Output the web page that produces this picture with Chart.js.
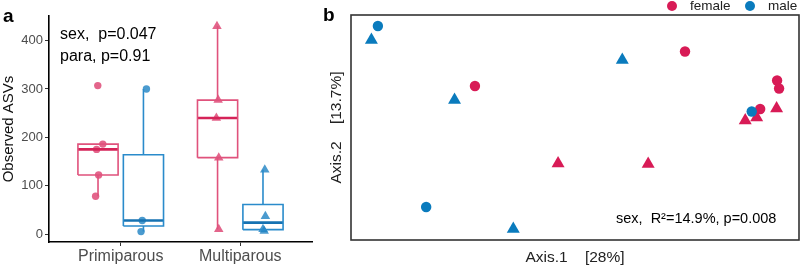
<!DOCTYPE html>
<html><head><meta charset="utf-8">
<script src="https://cdn.jsdelivr.net/npm/chart.js@4.4.1/dist/chart.umd.min.js"></script>
<style>
html,body{margin:0;padding:0;background:#fff;}
#wrap{position:relative;width:800px;height:267px;overflow:hidden;font-family:"Liberation Sans",Arial,sans-serif;}
#ca{position:absolute;left:0;top:0;}
#cb{position:absolute;left:320px;top:0;}
.lab{position:absolute;font-weight:bold;font-size:19px;color:#000;}
.ann{position:absolute;font-size:16px;color:#000;line-height:22px;white-space:nowrap;}
.leg{position:absolute;font-size:13.5px;color:#222;white-space:nowrap;top:-2px;}
.dot{position:absolute;width:10px;height:10px;border-radius:50%;top:1px;}
</style></head>
<body><div id="wrap">
<canvas id="ca" width="320" height="267"></canvas>
<canvas id="cb" width="480" height="267"></canvas>
<div class="lab" style="left:3px;top:5px;">a</div>
<div class="lab" style="left:323px;top:4px;">b</div>
<div class="ann" style="left:60px;top:23px;">sex, &nbsp;p=0.047<br>para, p=0.91</div>
<div class="ann" style="left:616px;top:207px;font-size:14.5px;">sex, &nbsp;R²=14.9%, p=0.008</div>
<span class="dot" style="left:667px;background:#D81B56"></span><span class="leg" style="left:690px;">female</span>
<span class="dot" style="left:745px;background:#0A7BBD"></span><span class="leg" style="left:768px;">male</span>
</div>
<script>
// ---------- Data: panel a (Observed ASVs) ----------
const categories = ["Primiparous", "Multiparous"];
const primFemale = [78, 122, 175, 186, 307];
const primMale = [5, 28, 300];
const multiFemale = [10, 158, 240, 277, 430];
const multiMale = [6, 10, 37, 133];
const yTicksA = [0, 100, 200, 300, 400];

// ---------- Data: panel b (PCoA) ----------
const femaleCircleX = [-0.201, 0.221, 0.406, 0.410, 0.372];
const femaleCircleY = [0.058, 0.127, 0.069, 0.053, 0.012];
const femaleTriX = [0.405, 0.342, 0.365, -0.034, 0.147];
const femaleTriY = [0.013, -0.011, -0.005, -0.097, -0.098];
const maleCircleX = [-0.396, 0.355, -0.299];
const maleCircleY = [0.178, 0.007, -0.184];
const maleTriX = [-0.409, -0.242, 0.095, -0.124];
const maleTriY = [0.150, 0.030, 0.110, -0.228];

// ---------- helpers ----------
function quant(sorted, p){
  const h=(sorted.length-1)*p, lo=Math.floor(h), hi=Math.ceil(h);
  return sorted[lo]+(h-lo)*(sorted[hi]-sorted[lo]);
}
function stats(v){
  const s=[...v].sort((a,b)=>a-b);
  const q1=quant(s,0.25), med=quant(s,0.5), q3=quant(s,0.75), iqr=q3-q1;
  const lw=Math.min(...s.filter(x=>x>=q1-1.5*iqr));
  const uw=Math.max(...s.filter(x=>x<=q3+1.5*iqr));
  return {q1,med,q3,lw,uw};
}
const FEM_BOX='#E0527C', FEM_MED='#D52358', FEM_PT='rgba(218,50,100,0.75)';
const MAL_BOX='#2A8BCB', MAL_MED='#1672B2', MAL_PT='rgba(30,130,195,0.8)';
const HALF=0.168, DODGE=0.19;
const jitter = {
  pf:[-0.02,0.005,-0.012,0.04,-0.002],
  pm:[-0.02,-0.01,0.025],
  mf:[0.01,0.01,-0.01,0.005,-0.005],
  mm:[0.01,0.0,0.02,0.015]
};
const dsA=[];
function addBox(vals, cx, boxCol, medCol, ptCol, style, jit){
  const st=stats(vals);
  const line=(pts,col,w)=>dsA.push({type:'scatter',data:pts,showLine:true,borderColor:col,borderWidth:w,pointRadius:0,fill:false,tension:0});
  line([{x:cx,y:st.q3},{x:cx,y:st.uw}],boxCol,1.6);
  line([{x:cx,y:st.q1},{x:cx,y:st.lw}],boxCol,1.6);
  line([{x:cx-HALF,y:st.q1},{x:cx+HALF,y:st.q1},{x:cx+HALF,y:st.q3},{x:cx-HALF,y:st.q3},{x:cx-HALF,y:st.q1}],boxCol,1.6);
  line([{x:cx-HALF,y:st.med},{x:cx+HALF,y:st.med}],medCol,2.6);
  dsA.push({type:'scatter',data:vals.map((v,i)=>({x:cx+jit[i],y:v})),pointStyle:style,
    pointRadius:style==='triangle'?5.5:3.7,backgroundColor:ptCol,borderColor:ptCol,borderWidth:0,showLine:false});
}
addBox(primFemale,1-DODGE,FEM_BOX,FEM_MED,FEM_PT,'circle',jitter.pf);
addBox(primMale,1+DODGE,MAL_BOX,MAL_MED,MAL_PT,'circle',jitter.pm);
addBox(multiFemale,2-DODGE,FEM_BOX,FEM_MED,FEM_PT,'triangle',jitter.mf);
addBox(multiMale,2+DODGE,MAL_BOX,MAL_MED,MAL_PT,'triangle',jitter.mm);

const FONT='"Liberation Sans", Arial, sans-serif';
new Chart(document.getElementById('ca'),{
  type:'scatter',
  data:{datasets:dsA},
  options:{
    responsive:false,animation:false,
    layout:{autoPadding:false,padding:{top:16,right:8,left:0,bottom:0}},
    plugins:{legend:{display:false},tooltip:{enabled:false}},
    scales:{
      x:{type:'linear',min:0.4,max:2.6,
        afterBuildTicks:s=>{s.ticks=[1,2].map(v=>({value:v}));},
        afterFit:s=>{s.height=25;},
        ticks:{callback:v=>categories[v-1]||'',color:'#4D4D4D',font:{family:FONT,size:16},padding:1,maxRotation:0,autoSkip:false},
        grid:{display:true,drawOnChartArea:false,drawTicks:true,tickLength:4,color:'#333',lineWidth:1},
        border:{display:true,color:'#000',width:1.6}},
      y:{type:'linear',min:-16.5,max:451,
        afterBuildTicks:s=>{s.ticks=yTicksA.map(v=>({value:v}));},
        afterFit:s=>{s.width=49;},
        ticks:{color:'#4D4D4D',font:{family:FONT,size:13},padding:2},
        grid:{display:true,drawOnChartArea:false,drawTicks:true,tickLength:4,color:'#333',lineWidth:1},
        border:{display:true,color:'#000',width:1.6},
        title:{display:true,text:'Observed ASVs',color:'#111',font:{family:FONT,size:15},padding:{top:0,bottom:2}}}
    }
  }
});

// ---------- panel b ----------
const FEM='#D81B56', MAL='#0A7BBD';
const zip=(xs,ys)=>xs.map((x,i)=>({x,y:ys[i]}));
const dsB=[
  {data:zip(maleCircleX,maleCircleY),pointStyle:'circle',pointRadius:5.2,backgroundColor:MAL,borderWidth:0},
  {data:zip(maleTriX,maleTriY),pointStyle:'triangle',pointRadius:7.5,backgroundColor:MAL,borderWidth:0},
  {data:zip(femaleCircleX,femaleCircleY),pointStyle:'circle',pointRadius:5.2,backgroundColor:FEM,borderWidth:0},
  {data:zip(femaleTriX,femaleTriY),pointStyle:'triangle',pointRadius:7.5,backgroundColor:FEM,borderWidth:0}
];
const frame={id:'frame',afterDraw(c){const a=c.chartArea,ctx=c.ctx;ctx.save();ctx.strokeStyle='#333';ctx.lineWidth=1.6;ctx.strokeRect(a.left,a.top,a.right-a.left,a.bottom-a.top);ctx.restore();}};
new Chart(document.getElementById('cb'),{
  type:'scatter',
  data:{datasets:dsB},
  plugins:[frame],
  options:{
    responsive:false,animation:false,
    layout:{autoPadding:false,padding:{top:15,right:1,left:7,bottom:0}},
    plugins:{legend:{display:false},tooltip:{enabled:false}},
    scales:{
      x:{type:'linear',min:-0.45,max:0.45,
        afterFit:s=>{s.height=27;},
        ticks:{display:false},grid:{display:false},border:{display:false},
        title:{display:true,text:'Axis.1    [28%]',color:'#222',font:{family:FONT,size:15.5},padding:{top:4,bottom:0}}},
      y:{type:'linear',min:-0.25,max:0.2,
        afterFit:s=>{s.width=24;},
        ticks:{display:false},grid:{display:false},border:{display:false},
        title:{display:true,text:'Axis.2    [13.7%]',color:'#222',font:{family:FONT,size:15.5},padding:{top:0,bottom:4}}}
    }
  }
});
</script>
</body></html>
